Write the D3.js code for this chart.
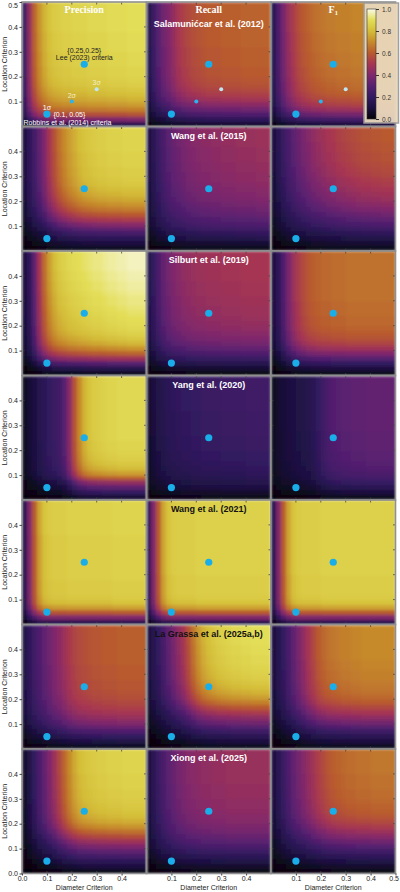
<!DOCTYPE html>
<html>
<head>
<meta charset="utf-8">
<script src="https://cdn.jsdelivr.net/npm/d3@7"></script>
<style>
  html, body { margin: 0; padding: 0; background: #fff; }
  svg { display: block; font-family: "Liberation Sans", Arial, sans-serif; }
</style>
</head>
<body>
<svg id="chart" width="400" height="892"></svg>
<script>
// metric columns and study rows
const metrics = ['Precision', 'Recall', 'F'];
const studies = [
    'Salamunićcar et al. (2012)',
    'Wang et al. (2015)',
    'Silburt et al. (2019)',
    'Yang et al. (2020)',
    'Wang et al. (2021)',
    'La Grassa et al. (2025a,b)',
    'Xiong et al. (2025)'
];
const studyDark = [false, false, false, false, true, true, false]; // label drawn in black

// grid of the criteria, 0.02 steps from 0 to 0.5
const cellEdges = d3.range(26).map(i => +(i * 0.02).toFixed(2));

// value profiles: D = along diameter (top of panel), L = along location (right side)
const precD = [
    [0.22,0.45,0.62,0.72,0.78,0.82,0.84,0.85,0.86,0.86,0.87,0.87,0.87,0.88,0.88,0.88,0.88,0.89,0.89,0.89,0.89,0.9,0.9,0.9,0.9],
    [0.1,0.18,0.25,0.32,0.4,0.5,0.58,0.65,0.7,0.74,0.77,0.8,0.82,0.83,0.84,0.85,0.85,0.86,0.86,0.86,0.87,0.87,0.87,0.87,0.87],
    [0.1,0.18,0.32,0.5,0.64,0.74,0.8,0.84,0.86,0.88,0.89,0.9,0.91,0.92,0.93,0.93,0.94,0.95,0.95,0.96,0.96,0.97,0.97,0.97,0.97],
    [0.05,0.08,0.11,0.14,0.17,0.2,0.22,0.24,0.3,0.42,0.58,0.7,0.78,0.82,0.84,0.85,0.86,0.87,0.87,0.88,0.88,0.88,0.88,0.88,0.88],
    [0.15,0.4,0.6,0.75,0.82,0.84,0.85,0.85,0.85,0.86,0.86,0.86,0.86,0.86,0.86,0.86,0.86,0.86,0.87,0.87,0.87,0.87,0.87,0.87,0.87],
    [0.12,0.18,0.24,0.28,0.32,0.36,0.4,0.43,0.47,0.51,0.54,0.56,0.57,0.58,0.59,0.59,0.6,0.6,0.6,0.61,0.61,0.61,0.61,0.61,0.61],
    [0.06,0.12,0.2,0.27,0.33,0.4,0.47,0.55,0.63,0.7,0.76,0.8,0.82,0.83,0.84,0.85,0.85,0.86,0.86,0.86,0.87,0.87,0.87,0.87,0.87]
];
const precL = [
    [0.15,0.4,0.58,0.68,0.74,0.78,0.81,0.83,0.85,0.86,0.87,0.87,0.88,0.88,0.88,0.89,0.89,0.89,0.89,0.9,0.9,0.9,0.9,0.9,0.9],
    [0.05,0.1,0.17,0.25,0.33,0.42,0.52,0.6,0.67,0.72,0.76,0.79,0.81,0.83,0.84,0.85,0.85,0.86,0.86,0.86,0.87,0.87,0.87,0.87,0.87],
    [0.05,0.15,0.3,0.48,0.62,0.72,0.79,0.83,0.86,0.88,0.89,0.9,0.91,0.92,0.93,0.93,0.94,0.95,0.95,0.96,0.96,0.97,0.97,0.97,0.97],
    [0.08,0.2,0.32,0.45,0.62,0.74,0.8,0.83,0.85,0.86,0.87,0.87,0.88,0.88,0.88,0.88,0.88,0.88,0.88,0.88,0.88,0.88,0.88,0.88,0.88],
    [0.15,0.4,0.6,0.75,0.82,0.84,0.85,0.85,0.85,0.86,0.86,0.86,0.86,0.86,0.86,0.86,0.86,0.86,0.87,0.87,0.87,0.87,0.87,0.87,0.87],
    [0.05,0.12,0.2,0.28,0.35,0.41,0.46,0.5,0.53,0.55,0.57,0.58,0.59,0.59,0.6,0.6,0.6,0.61,0.61,0.61,0.61,0.61,0.61,0.61,0.61],
    [0.04,0.1,0.17,0.25,0.32,0.4,0.48,0.57,0.65,0.72,0.77,0.8,0.82,0.83,0.84,0.85,0.85,0.86,0.86,0.86,0.87,0.87,0.87,0.87,0.87]
];
const recD = [
    [0.12,0.22,0.3,0.36,0.4,0.45,0.5,0.53,0.55,0.57,0.58,0.59,0.6,0.6,0.6,0.61,0.61,0.61,0.61,0.62,0.62,0.62,0.62,0.62,0.62],
    [0.1,0.16,0.22,0.27,0.31,0.34,0.36,0.38,0.4,0.41,0.42,0.43,0.43,0.44,0.44,0.45,0.45,0.45,0.46,0.46,0.46,0.46,0.47,0.47,0.47],
    [0.12,0.2,0.27,0.33,0.37,0.4,0.42,0.44,0.45,0.46,0.47,0.47,0.48,0.48,0.48,0.49,0.49,0.49,0.49,0.5,0.5,0.5,0.5,0.5,0.5],
    [0.06,0.1,0.13,0.15,0.17,0.18,0.19,0.2,0.2,0.21,0.21,0.22,0.22,0.22,0.22,0.23,0.23,0.23,0.23,0.23,0.24,0.24,0.24,0.24,0.24],
    [0.15,0.4,0.6,0.75,0.82,0.84,0.85,0.85,0.85,0.85,0.86,0.86,0.86,0.86,0.86,0.86,0.86,0.86,0.86,0.86,0.86,0.86,0.86,0.86,0.86],
    [0.1,0.15,0.2,0.26,0.32,0.38,0.44,0.5,0.58,0.66,0.73,0.78,0.81,0.83,0.85,0.86,0.87,0.88,0.88,0.89,0.89,0.9,0.9,0.9,0.9],
    [0.1,0.16,0.22,0.27,0.31,0.34,0.37,0.39,0.41,0.42,0.43,0.44,0.44,0.45,0.45,0.45,0.46,0.46,0.46,0.46,0.46,0.46,0.46,0.46,0.46]
];
const recL = [
    [0.08,0.18,0.28,0.36,0.43,0.49,0.53,0.56,0.58,0.59,0.6,0.6,0.61,0.61,0.61,0.61,0.62,0.62,0.62,0.62,0.62,0.62,0.62,0.62,0.62],
    [0.04,0.08,0.14,0.19,0.24,0.28,0.31,0.34,0.36,0.38,0.4,0.41,0.42,0.43,0.44,0.44,0.45,0.45,0.46,0.46,0.46,0.47,0.47,0.47,0.47],
    [0.03,0.08,0.15,0.22,0.28,0.33,0.37,0.4,0.42,0.44,0.45,0.46,0.47,0.47,0.48,0.48,0.49,0.49,0.49,0.5,0.5,0.5,0.5,0.5,0.5],
    [0.03,0.07,0.11,0.14,0.16,0.18,0.19,0.2,0.21,0.21,0.22,0.22,0.22,0.23,0.23,0.23,0.23,0.23,0.24,0.24,0.24,0.24,0.24,0.24,0.24],
    [0.15,0.4,0.6,0.75,0.82,0.84,0.85,0.85,0.85,0.85,0.86,0.86,0.86,0.86,0.86,0.86,0.86,0.86,0.86,0.86,0.86,0.86,0.86,0.86,0.86],
    [0.05,0.1,0.16,0.23,0.3,0.37,0.44,0.52,0.6,0.68,0.74,0.78,0.81,0.83,0.85,0.86,0.87,0.88,0.88,0.89,0.89,0.9,0.9,0.9,0.9],
    [0.03,0.07,0.12,0.17,0.22,0.27,0.31,0.34,0.37,0.39,0.41,0.42,0.43,0.44,0.44,0.45,0.45,0.45,0.46,0.46,0.46,0.46,0.46,0.46,0.46]
];
const f1D = [
    [0.15,0.28,0.38,0.46,0.52,0.57,0.6,0.62,0.64,0.65,0.66,0.67,0.67,0.68,0.68,0.68,0.69,0.69,0.69,0.7,0.7,0.7,0.7,0.7,0.7],
    [0.1,0.16,0.22,0.27,0.31,0.35,0.38,0.41,0.44,0.46,0.48,0.5,0.51,0.53,0.54,0.55,0.56,0.57,0.58,0.58,0.59,0.59,0.6,0.6,0.6],
    [0.1,0.18,0.28,0.38,0.46,0.52,0.56,0.59,0.61,0.62,0.63,0.63,0.64,0.64,0.64,0.65,0.65,0.65,0.65,0.65,0.65,0.65,0.65,0.65,0.65],
    [0.05,0.07,0.09,0.1,0.11,0.12,0.13,0.14,0.16,0.2,0.24,0.27,0.29,0.3,0.31,0.31,0.32,0.32,0.32,0.33,0.33,0.33,0.33,0.33,0.33],
    [0.15,0.4,0.6,0.75,0.82,0.84,0.85,0.85,0.85,0.85,0.86,0.86,0.86,0.86,0.86,0.86,0.86,0.86,0.86,0.86,0.86,0.86,0.86,0.86,0.86],
    [0.1,0.15,0.2,0.26,0.32,0.38,0.44,0.5,0.55,0.6,0.63,0.65,0.66,0.67,0.68,0.68,0.69,0.69,0.7,0.7,0.7,0.7,0.7,0.7,0.7],
    [0.1,0.16,0.22,0.28,0.33,0.37,0.41,0.45,0.49,0.53,0.56,0.59,0.61,0.62,0.63,0.64,0.64,0.65,0.65,0.65,0.66,0.66,0.66,0.66,0.66]
];
const f1L = [
    [0.1,0.25,0.38,0.48,0.55,0.59,0.62,0.64,0.65,0.66,0.67,0.67,0.68,0.68,0.68,0.69,0.69,0.69,0.69,0.7,0.7,0.7,0.7,0.7,0.7],
    [0.04,0.08,0.13,0.18,0.23,0.28,0.32,0.36,0.4,0.43,0.46,0.48,0.5,0.52,0.53,0.55,0.56,0.57,0.58,0.58,0.59,0.59,0.6,0.6,0.6],
    [0.04,0.1,0.2,0.3,0.4,0.48,0.54,0.58,0.6,0.62,0.63,0.63,0.64,0.64,0.64,0.65,0.65,0.65,0.65,0.65,0.65,0.65,0.65,0.65,0.65],
    [0.04,0.1,0.16,0.21,0.25,0.27,0.29,0.3,0.31,0.31,0.32,0.32,0.32,0.32,0.33,0.33,0.33,0.33,0.33,0.33,0.33,0.33,0.33,0.33,0.33],
    [0.15,0.4,0.6,0.75,0.82,0.84,0.85,0.85,0.85,0.85,0.86,0.86,0.86,0.86,0.86,0.86,0.86,0.86,0.86,0.86,0.86,0.86,0.86,0.86,0.86],
    [0.05,0.1,0.16,0.23,0.3,0.37,0.44,0.5,0.55,0.6,0.63,0.65,0.66,0.67,0.68,0.68,0.69,0.69,0.7,0.7,0.7,0.7,0.7,0.7,0.7],
    [0.03,0.07,0.12,0.18,0.24,0.3,0.36,0.42,0.47,0.52,0.56,0.59,0.61,0.62,0.63,0.64,0.64,0.65,0.65,0.65,0.66,0.66,0.66,0.66,0.66]
];
const profiles = [[precD, precL], [recD, recL], [f1D, f1L]];

// criteria points
const mainPoints = [[0.1, 0.05], [0.25, 0.25]];
const sigmaPoints = [
    { d: 0.2, l: 0.1, label: '2σ', color: '#2ab4ef' },
    { d: 0.3, l: 0.15, label: '3σ', color: '#bfe6f5' }
];

const axisTicks = [0.1, 0.2, 0.3, 0.4];
const colorbarTicks = [0, 0.2, 0.4, 0.6, 0.8, 1.0];

// colour ramp (inferno-like, as in the figure)
const rampStops = [0, 0.1, 0.2, 0.3, 0.4, 0.5, 0.6, 0.7, 0.8, 0.9, 1.0];
const rampColors = ['#050308', '#1b1040', '#331a60', '#562070', '#80286c', '#a63552',
    '#b85a2e', '#c68a2c', '#d4bd38', '#e3de58', '#fbfbea'];
const color = d3.scaleLinear().domain(rampStops).range(rampColors).interpolate(d3.interpolateRgb).clamp(true);

// layout
const padLeft = 22, padTop = 2, pw = 124.5, ph = 124.5;
const svg = d3.select('#chart');
const defs = svg.append('defs');

// soften the cell edges a bit, like the resampled raster in the figure
defs.append('filter').attr('id', 'smooth')
    .attr('x', 0).attr('y', 0).attr('width', 1).attr('height', 1)
    .append('feGaussianBlur').attr('stdDeviation', 1.4).attr('edgeMode', 'duplicate');

const xs = metrics.map((m, c) => d3.scaleLinear().domain([0, 0.5]).range([padLeft + c * pw, padLeft + (c + 1) * pw]));
const ys = studies.map((s, r) => d3.scaleLinear().domain([0, 0.5]).range([padTop + (r + 1) * ph, padTop + r * ph]));

studies.forEach((study, r) => {
    metrics.forEach((metric, c) => {
        const x = xs[c], y = ys[r];
        const D = profiles[c][0][r], L = profiles[c][1][r];
        const corner = D[D.length - 1];
        const cells = [];
        D.forEach((dv, i) => L.forEach((lv, j) => cells.push({ i, j, v: dv * lv / corner })));

        const clipId = `clip-${r}-${c}`;
        defs.append('clipPath').attr('id', clipId)
            .append('rect').attr('x', x(0)).attr('y', y(0.5)).attr('width', pw).attr('height', ph);

        const g = svg.append('g');
        g.append('g').attr('clip-path', `url(#${clipId})`)
            .append('g').attr('filter', 'url(#smooth)')
            .selectAll('rect').data(cells).join('rect')
            .attr('x', d => x(cellEdges[d.i]))
            .attr('y', d => y(cellEdges[d.j + 1]))
            .attr('width', d => x(cellEdges[d.i + 1]) - x(cellEdges[d.i]) + 0.4)
            .attr('height', d => y(cellEdges[d.j]) - y(cellEdges[d.j + 1]) + 0.4)
            .attr('fill', d => color(d.v))
            .attr('shape-rendering', 'crispEdges');

        // inward ticks on all sides
        const tg = g.append('g').attr('stroke', '#444').attr('stroke-width', 0.8);
        axisTicks.forEach(t => {
            tg.append('line').attr('x1', x(t)).attr('x2', x(t)).attr('y1', y(0.5)).attr('y2', y(0.5) + 2.5);
            tg.append('line').attr('x1', x(t)).attr('x2', x(t)).attr('y1', y(0)).attr('y2', y(0) - 2.5);
            tg.append('line').attr('y1', y(t)).attr('y2', y(t)).attr('x1', x(0)).attr('x2', x(0) + 2.5);
            tg.append('line').attr('y1', y(t)).attr('y2', y(t)).attr('x1', x(0.5)).attr('x2', x(0.5) - 2.5);
        });

        g.append('rect')
            .attr('x', x(0)).attr('y', y(0.5))
            .attr('width', pw).attr('height', ph)
            .attr('fill', 'none').attr('stroke', '#8f8f8f').attr('stroke-width', 1.6);

        // sigma points only in first row
        if (r === 0) {
            sigmaPoints.forEach(p => {
                g.append('circle').attr('cx', x(p.d)).attr('cy', y(p.l)).attr('r', 2).attr('fill', p.color);
            });
        }
        mainPoints.forEach(p => {
            g.append('circle').attr('cx', x(p[0])).attr('cy', y(p[1])).attr('r', 3.6).attr('fill', '#19aee9');
        });
    });

    // study label on the recall panel
    svg.append('text')
        .attr('x', (xs[1](0) + xs[1](0.5)) / 2)
        .attr('y', r === 0 ? ys[r](0.5) + 24.5 : ys[r](0.5) + 12)
        .attr('text-anchor', 'middle')
        .attr('font-size', 9).attr('font-weight', 'bold')
        .attr('fill', studyDark[r] ? '#111' : '#fff')
        .text(study);

    // y axis
    const yTicks = axisTicks.slice();
    if (r === 0) yTicks.push(0.5);
    if (r === studies.length - 1) yTicks.unshift(0);
    svg.append('g')
        .attr('transform', `translate(${padLeft},0)`)
        .call(d3.axisLeft(ys[r]).tickValues(yTicks).tickSize(2.5).tickPadding(1.5).tickFormat(d3.format('.1f')))
        .call(a => a.select('.domain').remove())
        .call(a => a.selectAll('text').attr('font-size', 7).attr('fill', '#222').attr('font-family', '"Liberation Sans", Arial, sans-serif'))
        .call(a => a.selectAll('.tick').filter(d => d === 0.5).select('text').attr('dy', '0.8em'))
        .call(a => a.selectAll('line').attr('stroke', '#444'));

    svg.append('text')
        .attr('transform', `translate(6.5,${(ys[r](0) + ys[r](0.5)) / 2}) rotate(-90)`)
        .attr('text-anchor', 'middle')
        .attr('font-size', 7).attr('fill', '#222')
        .text('Location Criterion');
});

// x axes under the bottom row
const bottomY = ys[studies.length - 1](0);
metrics.forEach((m, c) => {
    let xTicks = axisTicks.slice();
    if (c === 0) xTicks.unshift(0);
    if (c === metrics.length - 1) xTicks.push(0.5);
    svg.append('g')
        .attr('transform', `translate(0,${bottomY})`)
        .call(d3.axisBottom(xs[c]).tickValues(xTicks).tickSize(2).tickPadding(0.5).tickFormat(d3.format('.1f')))
        .call(a => a.select('.domain').remove())
        .call(a => a.selectAll('text').attr('font-size', 7).attr('fill', '#222').attr('font-family', '"Liberation Sans", Arial, sans-serif'))
        .call(a => a.selectAll('.tick').filter(d => d === 0.5).select('text').attr('text-anchor', 'end').attr('x', 3))
        .call(a => a.selectAll('line').attr('stroke', '#444'));
    svg.append('text')
        .attr('x', (xs[c](0) + xs[c](0.5)) / 2)
        .attr('y', bottomY + 16.5)
        .attr('text-anchor', 'middle')
        .attr('font-size', 7).attr('fill', '#222')
        .text('Diameter Criterion');
});

// metric titles
metrics.forEach((m, c) => {
    const t = svg.append('text')
        .attr('x', (xs[c](0) + xs[c](0.5)) / 2)
        .attr('y', padTop + 10.5)
        .attr('text-anchor', 'middle')
        .attr('font-family', '"Liberation Serif", "Times New Roman", serif')
        .attr('font-size', 10).attr('font-weight', 'bold')
        .attr('fill', '#fff')
        .text(m);
    if (c === 2) t.append('tspan').attr('font-size', 6.5).attr('dy', 2).text('1');
});

// annotations on the first precision panel
const xa = xs[0], ya = ys[0];
const ann = svg.append('g').attr('font-size', 7);
ann.append('text').attr('x', xa(0.25)).attr('y', ya(0.25) - 11.5).attr('text-anchor', 'middle').attr('fill', '#222').text('{0.25,0.25}');
ann.append('text').attr('x', xa(0.25)).attr('y', ya(0.25) - 4).attr('text-anchor', 'middle').attr('fill', '#222').text('Lee (2023) criteria');
ann.append('text').attr('x', xa(0.3)).attr('y', ya(0.15) - 4.5).attr('text-anchor', 'middle').attr('fill', '#f4efc4').text('3σ');
ann.append('text').attr('x', xa(0.2)).attr('y', ya(0.1) - 4).attr('text-anchor', 'middle').attr('fill', '#f4efc4').text('2σ');
ann.append('text').attr('x', xa(0.1)).attr('y', ya(0.05) - 4.5).attr('text-anchor', 'middle').attr('fill', '#fff').text('1σ');
ann.append('text').attr('x', xa(0.1) + 6.5).attr('y', ya(0.05) + 2.5).attr('fill', '#fff').text('{0.1, 0.05}');
ann.append('text').attr('x', xa(0) + 1.5).attr('y', ya(0) - 1.5).attr('fill', '#fff').text('Robbins et al. (2014) criteria');

// colorbar inside the F1 panel
const cbScale = d3.scaleLinear().domain([0, 1]).range([119, 9]);
const cb = svg.append('g');
cb.append('rect').attr('x', 364).attr('y', 3).attr('width', 34.5).attr('height', 120)
    .attr('fill', '#e9d8bc').attr('stroke', '#9a9a9a').attr('stroke-width', 1.5).attr('opacity', 0.95);
const grad = defs.append('linearGradient').attr('id', 'cbgrad')
    .attr('x1', 0).attr('x2', 0).attr('y1', 1).attr('y2', 0);
rampStops.forEach((s, i) => grad.append('stop').attr('offset', s).attr('stop-color', rampColors[i]));
cb.append('rect').attr('x', 367).attr('y', cbScale(1)).attr('width', 9).attr('height', cbScale(0) - cbScale(1))
    .attr('fill', 'url(#cbgrad)').attr('stroke', '#333').attr('stroke-width', 0.6);
cb.append('g')
    .attr('transform', 'translate(376,0)')
    .call(d3.axisRight(cbScale).tickValues(colorbarTicks).tickSize(3).tickFormat(d3.format('.1f')))
    .call(a => a.select('.domain').remove())
    .call(a => a.selectAll('text').attr('font-size', 6.5).attr('fill', '#333').attr('font-family', '"Liberation Sans", Arial, sans-serif'))
    .call(a => a.selectAll('line').attr('stroke', '#333'));
</script>
</body>
</html>
